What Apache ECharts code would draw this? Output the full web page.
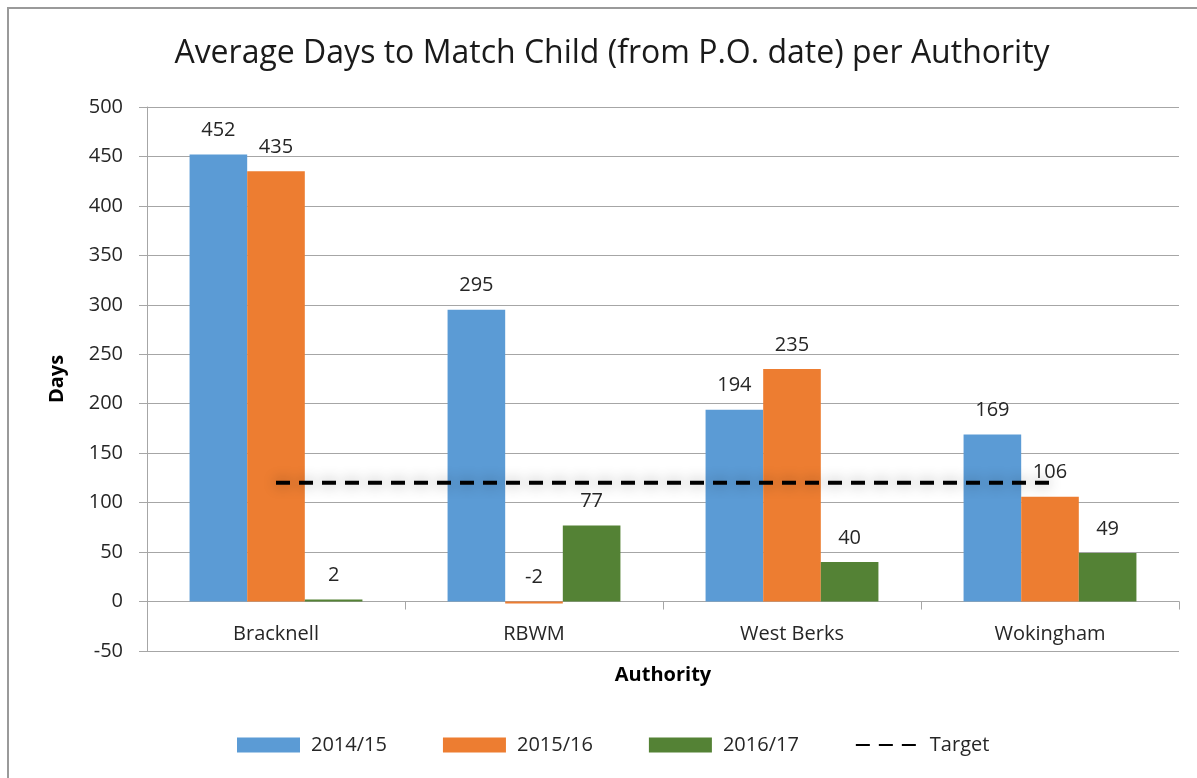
<!DOCTYPE html>
<html>
<head>
<meta charset="utf-8">
<script src="https://cdn.jsdelivr.net/npm/echarts@6/dist/echarts.min.js"></script>
<style>
  html, body { margin: 0; padding: 0; background: #fff; }
  #chart { width: 1197px; height: 778px; }
</style>
</head>
<body>
<div id="chart"></div>
<script>
var authorities = ['Bracknell', 'RBWM', 'West Berks', 'Wokingham'];
var y2014 = [452, 295, 194, 169];
var y2015 = [435, -2, 235, 106];
var y2016 = [2, 77, 40, 49];
var target = [120, 120, 120, 120];

var font = '"Open Sans", Lato, sans-serif';
var chart = echarts.init(document.getElementById('chart'), null, { renderer: 'canvas' });

function barLabel() {
    return {
        show: true,
        position: 'top',
        distance: 14,
        fontFamily: font,
        fontSize: 20,
        color: '#262626'
    };
}

var option = {
    animation: false,
    backgroundColor: '#fff',
    graphic: [{
        type: 'rect',
        shape: { x: 8, y: 8, width: 1400, height: 1000 },
        style: { fill: 'none', stroke: '#9a9a9a', lineWidth: 2 },
        silent: true
    }],
    title: {
        text: 'Average Days to Match Child (from P.O. date) per Authority',
        left: 607,
        textAlign: 'center',
        top: 33,
        textStyle: { fontFamily: font, fontSize: 32, fontWeight: 'normal', color: '#1a1a1a' }
    },
    legend: {
        bottom: 18,
        left: 232,
        itemWidth: 63,
        itemHeight: 15,
        itemGap: 56,
        textStyle: { fontFamily: font, fontSize: 20, color: '#262626', padding: [0, 0, 0, 6] },
        data: [
            { name: '2014/15', icon: 'rect' },
            { name: '2015/16', icon: 'rect' },
            { name: '2016/17', icon: 'rect' },
            { name: 'Target', itemStyle: { opacity: 0 } }
        ]
    },
    grid: { left: 147, right: 18, top: 107, bottom: 127 },
    xAxis: {
        type: 'category',
        data: authorities,
        name: 'Authority',
        nameLocation: 'middle',
        nameGap: 14,
        nameTextStyle: { fontFamily: font, fontSize: 20, fontWeight: 'bold', color: '#000' },
        axisLine: { onZero: true, lineStyle: { color: '#a6a6a6', width: 1 } },
        axisTick: { show: true, length: 8, lineStyle: { color: '#a6a6a6' } },
        axisLabel: { fontFamily: font, fontSize: 20, color: '#262626', margin: -27 }
    },
    yAxis: {
        type: 'value',
        min: -50,
        max: 500,
        interval: 50,
        name: 'Days',
        nameLocation: 'middle',
        nameGap: 80,
        nameTextStyle: { fontFamily: font, fontSize: 20, fontWeight: 'bold', color: '#000' },
        axisLine: { show: true, lineStyle: { color: '#a6a6a6' } },
        axisTick: { show: true, length: 8, lineStyle: { color: '#a6a6a6' } },
        axisLabel: { fontFamily: font, fontSize: 20, color: '#262626', margin: 24 },
        splitLine: { show: true, lineStyle: { color: '#a6a6a6' } }
    },
    series: [
        {
            name: '2014/15', type: 'bar', data: y2014,
            barGap: '0%', barCategoryGap: '33%',
            itemStyle: { color: '#5b9bd5' },
            label: barLabel()
        },
        {
            name: '2015/16', type: 'bar', data: y2015,
            itemStyle: { color: '#ed7d31' },
            label: barLabel()
        },
        {
            name: '2016/17', type: 'bar', data: y2016,
            itemStyle: { color: '#548235' },
            label: barLabel()
        },
        {
            name: 'Target', type: 'line', data: target,
            symbol: 'none', z: 5,
            itemStyle: { color: '#000' },
            lineStyle: {
                color: '#000', width: 4, type: [14, 9],
                shadowColor: 'rgba(0,0,0,0.45)', shadowBlur: 14
            }
        }
    ]
};

chart.setOption(option);
window.addEventListener('resize', chart.resize);
</script>
</body>
</html>
